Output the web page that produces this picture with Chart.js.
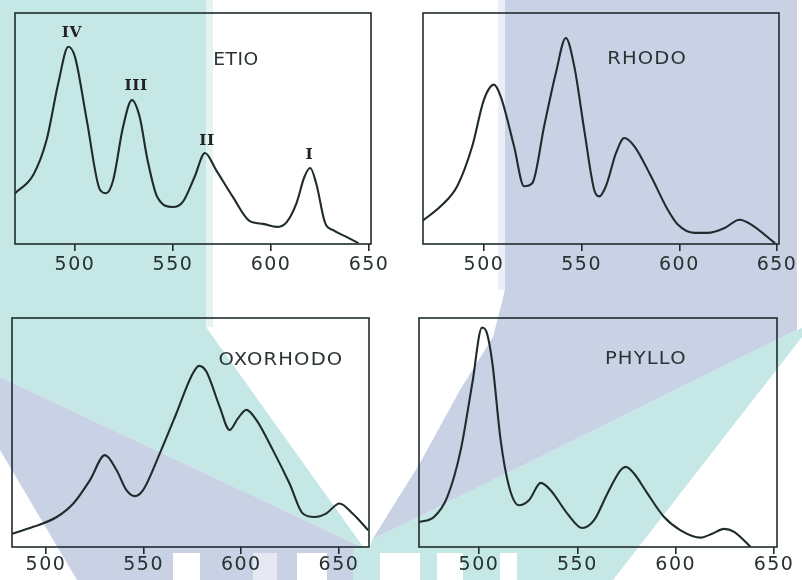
<!DOCTYPE html>
<html><head><meta charset="utf-8">
<script src="https://cdn.jsdelivr.net/npm/chart.js@4.4.1/dist/chart.umd.min.js"></script>
<style>
html,body{margin:0;padding:0;background:#fff;}
#wrap{position:relative;width:802px;height:580px;overflow:hidden;background:#fff;}
#wm{position:absolute;left:0;top:0;}
canvas{position:absolute;left:0;top:0;}
</style></head><body>
<div id="wrap">
<svg id="wm" width="802" height="580" xmlns="http://www.w3.org/2000/svg">
  <polygon fill="#c5e8e6" points="0,0 206,0 206,327 364,548 0,377"/>
  <rect fill="#e3f4f3" x="206" y="0" width="7" height="327"/>
  <polygon fill="#c9d1e5" points="0,377 364,548 360,580 77,580 0,450"/>
  <rect fill="#eceff7" x="498" y="0" width="7" height="290"/>
  <polygon fill="#c9d1e5" points="505,0 797,0 797,330 372,540 420,463 460,390 493,337 505,290"/>
  <polygon fill="#c5e8e6" points="797,330 802,328 802,337 613,580 360,580 372,540"/>
  <rect fill="#c5e8e6" x="353" y="548" width="27" height="32"/>
  <rect fill="#ffffff" x="173" y="553" width="27" height="27"/>
  <rect fill="#e6e9f4" x="253" y="553" width="24" height="27"/>
  <rect fill="#ffffff" x="297" y="553" width="30" height="27"/>
  <rect fill="#ffffff" x="380" y="553" width="40" height="27"/>
  <rect fill="#ffffff" x="437" y="553" width="26" height="27"/>
  <rect fill="#ffffff" x="500" y="553" width="17" height="27"/>
</svg>
<canvas id="c1" width="802" height="580"></canvas>
<canvas id="c2" width="802" height="580"></canvas>
<canvas id="c3" width="802" height="580"></canvas>
<canvas id="c4" width="802" height="580"></canvas>
</div>
<script>
// ---- data ----
const xTicks = [500, 550, 600, 650];

const etioWavelength = [469.5,478.7,485.5,491.5,496.6,500,506,512.8,516,519.5,524.5,529,533,537,542,550,555,561,566.3,572,580.6,589,596,603,608,613,617,620,623,627.6,631.7,638.7,644.6];
const etioAbsorbance = [22,29.9,45,69.7,85.4,81,53.7,23.4,22,27.7,50.6,62.3,55,36.4,20.3,16,18.2,29,39.4,32,20.3,10,8.7,7.4,9.5,17.7,29,32.9,26.4,9.1,6,3,0.4];

const rhodoWavelength = [468.8,477.8,486.3,494,500,505.1,508.5,515.4,520.5,524.8,530.8,536.8,541.9,546.2,551.3,556.4,559,562.4,567.6,571.8,577,585.5,594,599.2,607.7,614.6,623.1,630.8,636.8,649];
const rhodoAbsorbance = [10.2,16.3,25,42.3,62.5,69,64,42.3,25,26.4,51,74,89.2,77,49.5,23.5,20.6,25,39.4,45.9,42.3,29.3,14.9,8.4,4.8,4.8,6.9,10.5,8.4,0.3];

const oxorhodoWavelength = [482.8,493.5,505.5,514,522.5,530.2,536.1,541.2,545.5,549.7,558.3,566.8,574.4,578.4,582.1,588.9,594,598.3,602.6,607.7,616.2,624.7,631.5,637.5,643.4,650.3,657,665];
const oxorhodoAbsorbance = [5.8,8.8,13.1,19,29.2,40.1,33.6,24.8,22.2,24.8,40.9,58.4,74.5,79.1,76.6,61.3,51.1,56.2,59.9,55.5,42.3,27.7,14.6,13.1,14.6,19,14.6,7.3];

const phylloWavelength = [469.5,477.1,483.9,490.7,496.6,501.5,504,506.8,511,515.3,520.3,525.4,531.4,536.4,544.9,552.5,558.5,565.3,572,574.6,578.8,585.6,594.1,602.5,612.7,618.6,624.6,629.7,638.1];
const phylloAbsorbance = [10.9,13.1,21.9,42.3,71.5,95.8,93.5,80.3,46.7,26.3,18.2,20.4,28,24.8,14.6,8.3,11.7,23.4,33.6,35,32.1,23.4,13.1,7.3,4.1,5.8,7.9,6.6,0];

const panelNames = ['ETIO', 'RHODO', 'OXORHODO', 'PHYLLO'];
const etioBandNames = ['IV', 'III', 'II', 'I'];
const etioBandPos = [[498.3, 91.8], [531, 68.8], [567.2, 45], [619.4, 39]];

// ---- styles ----
const INK = '#1f2b2c';
const SANS = "'DejaVu Sans', sans-serif";
const SERIF = "'DejaVu Serif', serif";

const framePlugin = {
  id: 'frameLabels',
  beforeDraw(chart) { chart.ctx.letterSpacing = '1.5px'; },
  beforeDatasetsDraw(chart) {
    const {ctx, chartArea: a} = chart;
    ctx.save();
    ctx.strokeStyle = INK;
    ctx.lineWidth = 1.6;
    ctx.strokeRect(a.left, a.top, a.right - a.left, a.bottom - a.top);
    ctx.restore();
  },
  afterDatasetsDraw(chart, args, opts) {
    const {ctx, scales} = chart;
    (opts.labels || []).forEach(l => {
      ctx.save();
      const sp = l.spacing || 0, sx = l.stretch || 1;
      ctx.letterSpacing = sp + 'px';
      ctx.font = l.font;
      ctx.fillStyle = l.color || '#2a3333';
      ctx.textAlign = 'left';
      ctx.textBaseline = 'alphabetic';
      const w = (ctx.measureText(l.text).width - sp) * sx;
      const px = scales.x.getPixelForValue(l.x) - w / 2;
      const py = scales.y.getPixelForValue(l.y) + l.dy;
      ctx.translate(px, py);
      ctx.scale(sx, 1);
      ctx.fillText(l.text, 0, 0);
      ctx.restore();
    });
  }
};

function makeChart(id, xs, ys, xmin, xmax, pad, tickPad, labels) {
  const pts = xs.map((x, i) => ({x: x, y: ys[i]}));
  return new Chart(document.getElementById(id), {
    type: 'line',
    data: { datasets: [{
      data: pts, borderColor: INK, borderWidth: 2.1, pointRadius: 0,
      cubicInterpolationMode: 'monotone', fill: false
    }]},
    options: {
      responsive: false, animation: false,
      layout: { padding: pad },
      plugins: { legend: {display: false}, tooltip: {enabled: false}, frameLabels: {labels: labels} },
      scales: {
        x: {
          type: 'linear', min: xmin, max: xmax,
          afterBuildTicks: s => { s.ticks = xTicks.map(v => ({value: v})); },
          afterFit: s => { s.height = 30; },
          grid: { drawOnChartArea: false, drawTicks: true, tickLength: 7, color: INK, lineWidth: 1.6 },
          border: { display: false },
          ticks: { color: '#263131', padding: tickPad, maxRotation: 0, autoSkip: false,
                   font: { family: SANS, size: 19 } }
        },
        y: { display: false, min: 0, max: 100 }
      }
    },
    plugins: [framePlugin]
  });
}

const titleFont = "17px " + SANS;
const romanFont = "bold 14px " + SERIF;

makeChart('c1', etioWavelength, etioAbsorbance, 469.4, 651,
  {left: 15, top: 13, right: 431, bottom: 306}, 3,
  [{text: panelNames[0], x: 582, y: 79.9, dy: 6, font: titleFont, spacing: 0.5, stretch: 1.1}]
    .concat(etioBandNames.map((t, i) => ({text: t, x: etioBandPos[i][0], y: etioBandPos[i][1], dy: 5, font: romanFont, spacing: 0.5, stretch: 1.1, color: '#222'}))));

makeChart('c2', rhodoWavelength, rhodoAbsorbance, 468.8, 651,
  {left: 423, top: 13, right: 23, bottom: 306}, 3,
  [{text: panelNames[1], x: 583.2, y: 80.4, dy: 6, font: titleFont, spacing: 1, stretch: 1.15}]);

makeChart('c3', oxorhodoWavelength, oxorhodoAbsorbance, 482.6, 665.4,
  {left: 12, top: 318, right: 433, bottom: 3}, 0,
  [{text: panelNames[2], x: 620, y: 82.2, dy: 6, font: titleFont, spacing: 1, stretch: 1.15}]);

makeChart('c4', phylloWavelength, phylloAbsorbance, 469.5, 651.5,
  {left: 419, top: 318, right: 25, bottom: 3}, 0,
  [{text: panelNames[3], x: 584.5, y: 82.6, dy: 6, font: titleFont, spacing: 1, stretch: 1.15}]);
</script>
</body></html>
